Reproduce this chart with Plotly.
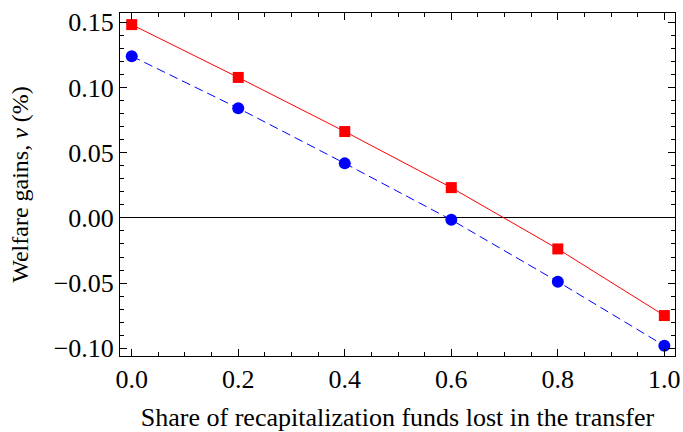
import plotly.graph_objects as go

# share of recapitalization funds lost
share = [0.0, 0.2, 0.4, 0.6, 0.8, 1.0]
# welfare gains (%)
gains_red = [0.1482, 0.1077, 0.0662, 0.0232, -0.0238, -0.0749]
gains_blue = [0.1240, 0.0841, 0.0418, -0.0015, -0.0489, -0.0980]

x_ticks = [0.0, 0.2, 0.4, 0.6, 0.8, 1.0]
x_ticklabels = ["0.0", "0.2", "0.4", "0.6", "0.8", "1.0"]
y_ticks = [-0.10, -0.05, 0.00, 0.05, 0.10, 0.15]
y_ticklabels = ["\u22120.10", "\u22120.05", "0.00", "0.05", "0.10", "0.15"]

font_name = "Liberation Serif"

fig = go.Figure()
fig.add_trace(go.Scatter(
    x=share, y=gains_blue, mode="lines+markers",
    line=dict(color="#0000ff", width=1, dash="9px,5px"),
    marker=dict(symbol="circle", size=12, color="#0000ff"),
    showlegend=False
))
fig.add_trace(go.Scatter(
    x=share, y=gains_red, mode="lines+markers",
    line=dict(color="#ff0000", width=1),
    marker=dict(symbol="square", size=11, color="#ff0000"),
    showlegend=False
))

axis_common = dict(
    showline=True, linecolor="black", linewidth=1, mirror="allticks",
    ticks="inside", tickcolor="black", ticklen=7, tickwidth=1,
    showgrid=False, automargin=False,
    tickfont=dict(family=font_name, size=26, color="black"),
)

fig.update_xaxes(
    range=[-0.022, 1.02], tickvals=x_ticks, ticktext=x_ticklabels,
    zeroline=False,
    minor=dict(dtick=0.05, tick0=0, ticks="inside", ticklen=4, tickcolor="black", showgrid=False),
    title=dict(text="Share of recapitalization funds lost in the transfer",
               font=dict(family=font_name, size=26, color="black"), standoff=18),
    **axis_common
)
fig.update_yaxes(
    range=[-0.1059, 0.1571], tickvals=y_ticks, ticktext=y_ticklabels,
    zeroline=True, zerolinecolor="black", zerolinewidth=1,
    minor=dict(dtick=0.01, tick0=0, ticks="inside", ticklen=4, tickcolor="black", showgrid=False),
    title=dict(text="Welfare gains, <i>\u03bd</i> (%)",
               font=dict(family=font_name, size=24, color="black"), standoff=18),
    **axis_common
)

fig.update_layout(
    width=683, height=432,
    margin=dict(l=120, r=8, t=13, b=76),
    paper_bgcolor="white", plot_bgcolor="white",
    font=dict(family=font_name, color="black"),
)

# the page has a default body margin; drop it so the figure sits at the corner
fig.write_html("out.html", config={"displayModeBar": False},
               post_script="document.body.style.margin='0';")
